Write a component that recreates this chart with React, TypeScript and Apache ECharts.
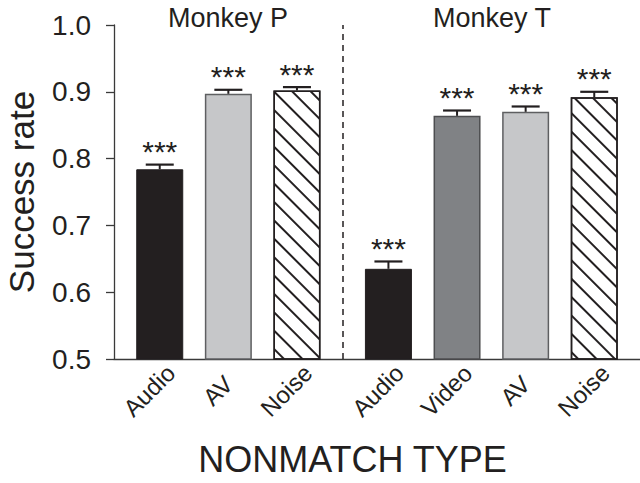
import React, { useEffect, useRef } from "react";
import * as echarts from "echarts";

// ---- data ----
const monkeyPCategories = ["Audio", "AV", "Noise"];
const monkeyPValues = [0.784, 0.897, 0.902];
const monkeyPErrors = [0.007, 0.006, 0.005];
const monkeyPStars = ["***", "***", "***"];

const monkeyTCategories = ["Audio", "Video", "AV", "Noise"];
const monkeyTValues = [0.635, 0.864, 0.87, 0.892];
const monkeyTErrors = [0.011, 0.008, 0.008, 0.008];
const monkeyTStars = ["***", "***", "***", "***"];

const groupTitles = ["Monkey P", "Monkey T"];
const yAxisName = "Success rate";
const xAxisName = "NONMATCH TYPE";
const yMin = 0.5;
const yMax = 1.0;
const yStep = 0.1;

// ---- styling ----
const FONT = '"Liberation Sans", Arial, Helvetica, sans-serif';
const INK = "#231f20";
const typeStyle: Record<string, any> = {
  Audio: { color: "#231f20", borderColor: "#231f20", borderWidth: 1 },
  AV: { color: "#c6c7c9", borderColor: "#5e5f61", borderWidth: 1.5 },
  Video: { color: "#808285", borderColor: "#4d4e50", borderWidth: 1.5 },
  Noise: {
    color: "#ffffff",
    borderColor: "#231f20",
    borderWidth: 1.5,
    decal: {
      symbol: "rect",
      symbolSize: 1,
      color: "#231f20",
      dashArrayX: [1, 0],
      dashArrayY: [1.4, 10.6],
      rotation: Math.PI / 4,
    },
  },
};

// slot layout on a fine category axis
const LEAD = 2;
const STEP = 3;
const GROUP_GAP = 4;

export default function App() {
  const ref = useRef<HTMLDivElement>(null);

  useEffect(() => {
    document.body.style.margin = "0";
    const groups = [
      { cats: monkeyPCategories, vals: monkeyPValues, errs: monkeyPErrors, stars: monkeyPStars },
      { cats: monkeyTCategories, vals: monkeyTValues, errs: monkeyTErrors, stars: monkeyTStars },
    ];
    const bars: any[] = [];
    const dividers: number[] = [];
    let slot = LEAD;
    groups.forEach((g, gi) => {
      if (gi > 0) {
        dividers.push(slot - STEP + GROUP_GAP / 2);
        slot = slot - STEP + GROUP_GAP;
      }
      g.cats.forEach((c, i) => {
        bars.push({ slot, cat: c, val: g.vals[i], err: g.errs[i], star: g.stars[i] });
        slot += STEP;
      });
    });
    const nSlots = slot - STEP + LEAD + 1;
    const xCats: string[] = new Array(nSlots).fill("");
    const barData: any[] = new Array(nSlots).fill("-");
    bars.forEach((b) => {
      xCats[b.slot] = b.cat;
      barData[b.slot] = { value: b.val, itemStyle: typeStyle[b.cat] };
    });
    const errData = bars.map((b) => [b.slot, b.val, b.err, b.star]);

    const chart = echarts.init(ref.current!, null, { renderer: "svg" });
    chart.setOption({
      animation: false,
      backgroundColor: "#ffffff",
      grid: { left: 114, right: 0, top: 25, bottom: 124, containLabel: false, outerBoundsMode: "none" },
      xAxis: {
        type: "category",
        data: xCats,
        boundaryGap: false,
        axisLine: { show: true, lineStyle: { color: "#3a3a3a", width: 1.3 } },
        axisTick: { show: false },
        splitLine: { show: false },
        axisLabel: {
          interval: 0,
          rotate: 45,
          align: "center",
          verticalAlign: "middle",
          margin: 21,
          padding: [0, 30, 0, 0],
          fontSize: 24,
          fontFamily: FONT,
          color: INK,
        },
      },
      yAxis: {
        type: "value",
        min: yMin,
        max: yMax,
        interval: yStep,
        name: yAxisName,
        nameLocation: "middle",
        nameGap: 75,
        nameTextStyle: { fontSize: 35, fontFamily: FONT, color: INK },
        axisLine: { show: true, lineStyle: { color: "#3a3a3a", width: 1.3 } },
        axisTick: { show: true, inside: false, length: 8, lineStyle: { color: "#3a3a3a", width: 1.3 } },
        splitLine: { show: false },
        axisLabel: {
          margin: 23,
          fontSize: 28,
          fontFamily: FONT,
          color: INK,
          formatter: (v: number) => v.toFixed(1),
        },
      },
      graphic: [
        {
          type: "text",
          x: 228,
          y: 17.5,
          style: { text: groupTitles[0], font: `27px ${FONT}`, fill: INK, textAlign: "center", textVerticalAlign: "middle" },
        },
        {
          type: "text",
          x: 492,
          y: 17.5,
          style: { text: groupTitles[1], font: `27px ${FONT}`, fill: INK, textAlign: "center", textVerticalAlign: "middle" },
        },
        {
          type: "text",
          x: 352.5,
          y: 459,
          style: { text: xAxisName, font: `36px ${FONT}`, fill: INK, textAlign: "center", textVerticalAlign: "middle" },
        },
      ],
      series: [
        {
          type: "bar",
          data: barData,
          barWidth: 47,
          z: 2,
          markLine: {
            silent: true,
            symbol: ["none", "none"],
            label: { show: false },
            lineStyle: { color: INK, width: 1.5, type: [6, 5] },
            data: dividers.map((d) => ({ xAxis: d })),
          },
        },
        {
          type: "custom",
          z: 5,
          data: errData,
          encode: { x: 0, y: 1 },
          renderItem: (params: any, api: any) => {
            const x = api.value(0);
            const v = api.value(1);
            const e = api.value(2);
            const base = api.coord([x, v]);
            const top = api.coord([x, v + e]);
            const capHalf = 14;
            return {
              type: "group",
              children: [
                {
                  type: "line",
                  shape: { x1: base[0], y1: base[1], x2: top[0], y2: top[1] },
                  style: { stroke: INK, lineWidth: 2 },
                },
                {
                  type: "line",
                  shape: { x1: top[0] - capHalf, y1: top[1], x2: top[0] + capHalf, y2: top[1] },
                  style: { stroke: INK, lineWidth: 2.2 },
                },
                {
                  type: "text",
                  style: {
                    text: errData[params.dataIndex][3],
                    x: top[0],
                    y: top[1] - 13,
                    textAlign: "center",
                    textVerticalAlign: "middle",
                    align: "center",
                    verticalAlign: "middle",
                    fontSize: 30,
                    fontFamily: FONT,
                    fill: INK,
                  },
                },
              ],
            };
          },
        },
      ],
    });
    return () => chart.dispose();
  }, []);

  return (
    <div
      ref={ref}
      style={{ position: "fixed", left: 0, top: 0, width: 640, height: 483, background: "#fff" }}
    />
  );
}
